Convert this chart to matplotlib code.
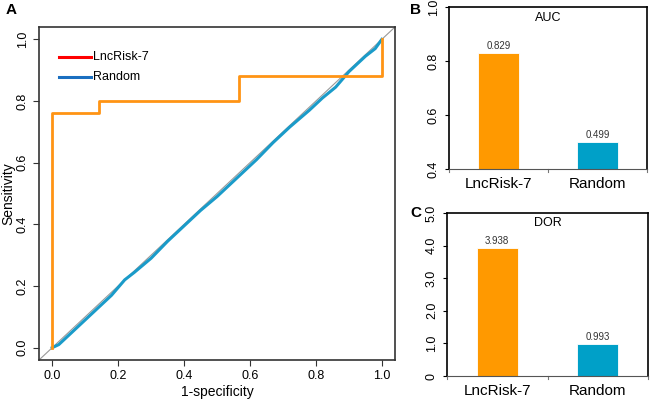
import matplotlib
matplotlib.use("Agg")
import matplotlib.pyplot as plt

plt.rcParams['font.family'] = ['Liberation Sans', 'DejaVu Sans']

# ROC curves
lnc_fpr = [0, 0, 0.142, 0.142, 0.568, 0.568, 1.0, 1.0]
lnc_tpr = [0, 0.76, 0.76, 0.80, 0.80, 0.88, 0.88, 1.0]
rand_fpr = [0, 0.02, 0.05, 0.1, 0.13, 0.18, 0.22, 0.25, 0.3, 0.35, 0.4, 0.45,
            0.5, 0.55, 0.58, 0.62, 0.67, 0.72, 0.78, 0.82, 0.86, 0.9, 0.95, 0.98, 1.0]
rand_tpr = [0, 0.01, 0.04, 0.09, 0.12, 0.17, 0.22, 0.245, 0.29, 0.345, 0.395, 0.445,
            0.49, 0.54, 0.57, 0.61, 0.665, 0.715, 0.77, 0.81, 0.845, 0.895, 0.945, 0.97, 1.0]

# bar panels
models = ["LncRisk-7", "Random"]
auc = [0.829, 0.499]
dor = [3.938, 0.993]

ORANGE = "#FF9900"
BLUE = "#00A0C8"

fig = plt.figure(figsize=(6.5, 3.99), dpi=100)

# --- panel A: ROC ---
ax = fig.add_axes([0.06, 0.0977, 0.5477, 0.8346])
ax.plot([-0.04, 1.04], [-0.04, 1.04], color="#999999", lw=0.8, zorder=1)
ax.plot(rand_fpr, rand_tpr, color="#1A9BC9", lw=2.2, zorder=2)
ax.plot(lnc_fpr, lnc_tpr, color="#FF9414", lw=2.0, zorder=3)
ax.set_xlim(-0.04, 1.04)
ax.set_ylim(-0.04, 1.04)
ticks = [0.0, 0.2, 0.4, 0.6, 0.8, 1.0]
ax.set_xticks(ticks)
ax.set_yticks(ticks)
ax.set_xticklabels([f"{t:.1f}" for t in ticks], fontsize=9)
ax.set_yticklabels([f"{t:.1f}" for t in ticks], fontsize=9, rotation=90, va="center")
ax.set_xlabel("1-specificity", fontsize=10, labelpad=2)
ax.set_ylabel("Sensitivity", fontsize=10, labelpad=1)
for s in ax.spines.values():
    s.set_color("#333333")
    s.set_linewidth(1.2)
ax.tick_params(length=4, color="#333333")

# legend drawn as lines in axes coords
ax.plot([0.055, 0.145], [0.91, 0.91], transform=ax.transAxes, color="red", lw=2.2)
ax.plot([0.055, 0.145], [0.85, 0.85], transform=ax.transAxes, color="#1A6FC0", lw=2.2)
ax.text(0.153, 0.91, "LncRisk-7", transform=ax.transAxes, fontsize=9, va="center")
ax.text(0.153, 0.85, "Random", transform=ax.transAxes, fontsize=9, va="center")

fig.text(0.008, 0.975, "A", fontsize=11, fontweight="bold", va="center")
fig.text(0.631, 0.975, "B", fontsize=11, fontweight="bold", va="center")
fig.text(0.631, 0.465, "C", fontsize=11, fontweight="bold", va="center")


def bar_panel(rect, vals, title, ylim, yticks, title_y):
    bx = fig.add_axes(rect)
    bars = bx.bar([0, 1], vals, width=0.41, color=[ORANGE, BLUE],
                  edgecolor="white", linewidth=0.6, zorder=2)
    bx.set_xlim(-0.5, 1.5)
    bx.set_ylim(*ylim)
    bx.set_xticks([0, 1])
    bx.set_xticklabels(models, fontsize=11)
    bx.tick_params(axis="x", length=0, pad=6)
    for xm in [-0.5, 0.5, 1.5]:
        bx.plot([xm, xm], [0, -0.02], transform=bx.get_xaxis_transform(),
                color="#777777", lw=0.8, clip_on=False)
    bx.set_yticks(yticks)
    bx.set_yticklabels([f"{t:.1f}" if t != 0 else "0" for t in yticks],
                       fontsize=9, rotation=90, va="center")
    bx.tick_params(axis="y", length=3)
    for name in ["left", "top", "right"]:
        bx.spines[name].set_color("black")
        bx.spines[name].set_linewidth(1.2)
    bx.spines["bottom"].set_color("#555555")
    bx.spines["bottom"].set_linewidth(0.8)
    rng = ylim[1] - ylim[0]
    for b, v in zip(bars, vals):
        bx.text(b.get_x() + b.get_width() / 2, v + rng * 0.012, f"{v:.3f}",
                ha="center", va="bottom", fontsize=7, color="#333333")
    bx.text(0.5, title_y, title, transform=bx.transAxes, ha="center",
            va="center", fontsize=9)
    return bx


bar_panel([0.6908, 0.5764, 0.3046, 0.4061], auc, "AUC", (0.4, 1.0), [0.4, 0.6, 0.8, 1.0], 0.93)
bar_panel([0.6877, 0.0576, 0.3093, 0.4086], dor, "DOR", (0, 5.0), [0, 1.0, 2.0, 3.0, 4.0, 5.0], 0.94)

fig.savefig("out.png", dpi=100)
